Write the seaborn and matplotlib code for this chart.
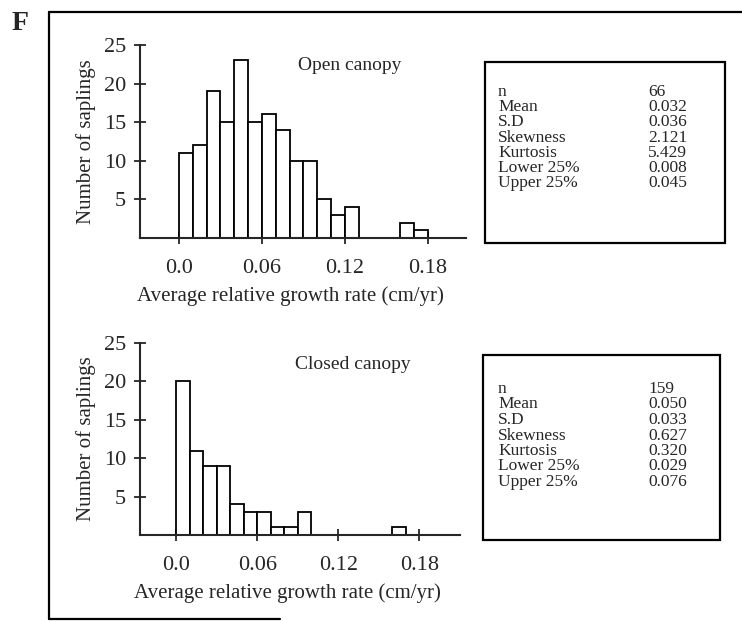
import numpy as np
import pandas as pd
import seaborn as sns
import matplotlib
import matplotlib.pyplot as plt
from matplotlib.patches import Rectangle
from matplotlib.lines import Line2D
matplotlib.use('Agg')

sns.set_style("ticks")
plt.rcParams['font.family'] = ['Liberation Serif', 'DejaVu Serif']

# histogram bins (cm/yr), width 0.01
bin_edges = [0.00, 0.01, 0.02, 0.03, 0.04, 0.05, 0.06, 0.07, 0.08, 0.09,
             0.10, 0.11, 0.12, 0.13, 0.14, 0.15, 0.16, 0.17, 0.18]
open_counts = [11, 12, 19, 15, 23, 15, 16, 14, 10, 10, 5, 3, 4, 0, 0, 0, 2, 1]
closed_counts = [20, 11, 9, 9, 4, 3, 3, 1, 1, 3, 0, 0, 0, 0, 0, 0, 1, 0]

x_ticks = [0.0, 0.06, 0.12, 0.18]
x_ticklabels = ['0.0', '0.06', '0.12', '0.18']
y_ticks = [5, 10, 15, 20, 25]

stat_names = ['n', 'Mean', 'S.D', 'Skewness', 'Kurtosis', 'Lower 25%', 'Upper 25%']
open_stats = ['66', '0.032', '0.036', '2.121', '5.429', '0.008', '0.045']
closed_stats = ['159', '0.050', '0.033', '0.627', '0.320', '0.029', '0.076']

W, H = 742, 621
fig = plt.figure(figsize=(W / 100, H / 100), dpi=100)


def fx(px):
    return px / W


def fy(py):
    return 1 - py / H


def draw_hist(rect, counts, title, title_xy, xlim):
    ax = fig.add_axes(rect)
    mids = [(a + b) / 2 for a, b in zip(bin_edges[:-1], bin_edges[1:])]
    df = pd.DataFrame({'rate': mids, 'count': counts})
    sns.histplot(data=df, x='rate', weights='count', bins=bin_edges, ax=ax,
                 color='white', edgecolor='black', linewidth=1.3, alpha=1)
    ax.set_xlim(*xlim)
    ax.set_ylim(0, 25)
    ax.set_xticks(x_ticks)
    ax.set_xticklabels(x_ticklabels)
    ax.set_yticks(y_ticks)
    sns.despine(ax=ax)
    for s in ['left', 'bottom']:
        ax.spines[s].set_linewidth(1.5)
    ax.tick_params(direction='inout', length=8, width=1.3, labelsize=16, pad=6)
    ax.tick_params(axis='x', pad=11)
    ax.set_xlabel('Average relative growth rate (cm/yr)', fontsize=15)
    ax.xaxis.set_label_coords(0.46, -0.25)
    ax.set_ylabel('Number of saplings', fontsize=15, labelpad=6)
    ax.text(title_xy[0], title_xy[1], title, transform=fig.transFigure,
            fontsize=14, va='center', ha='left')
    return ax


draw_hist([fx(140), fy(238), fx(466) - fx(140), fy(45) - fy(238)],
          open_counts, 'Open canopy', (fx(298), fy(66)), (-0.0282, 0.2075))
draw_hist([fx(140), fy(535), fx(460) - fx(140), fy(343) - fy(535)],
          closed_counts, 'Closed canopy', (fx(295), fy(364)), (-0.0267, 0.210))


def stats_box(x0, y0, x1, y1, first_row, step, values):
    fig.patches.append(Rectangle((fx(x0), fy(y1)), fx(x1) - fx(x0), fy(y0) - fy(y1),
                                 transform=fig.transFigure, fill=False,
                                 edgecolor='black', linewidth=1.6))
    for i, (name, val) in enumerate(zip(stat_names, values)):
        y = fy(first_row + i * step)
        fig.text(fx(498), y, name, fontsize=12.5, va='center', ha='left')
        fig.text(fx(648), y, val, fontsize=12.5, va='center', ha='left')


stats_box(485, 62, 725, 243, 92, 15.2, open_stats)
stats_box(483, 355, 720, 540, 389, 15.5, closed_stats)

# outer frame of the panel
fig.lines.append(Line2D([fx(49), fx(49)], [fy(12), fy(619)], transform=fig.transFigure,
                        color='black', linewidth=1.6))
fig.lines.append(Line2D([fx(49), fx(742)], [fy(12), fy(12)], transform=fig.transFigure,
                        color='black', linewidth=1.6))
fig.lines.append(Line2D([fx(49), fx(280)], [fy(619), fy(619)], transform=fig.transFigure,
                        color='black', linewidth=1.6))

fig.text(fx(20), fy(24), 'F', fontsize=20, fontweight='bold', va='center', ha='center')

fig.savefig('out.png', dpi=100)
